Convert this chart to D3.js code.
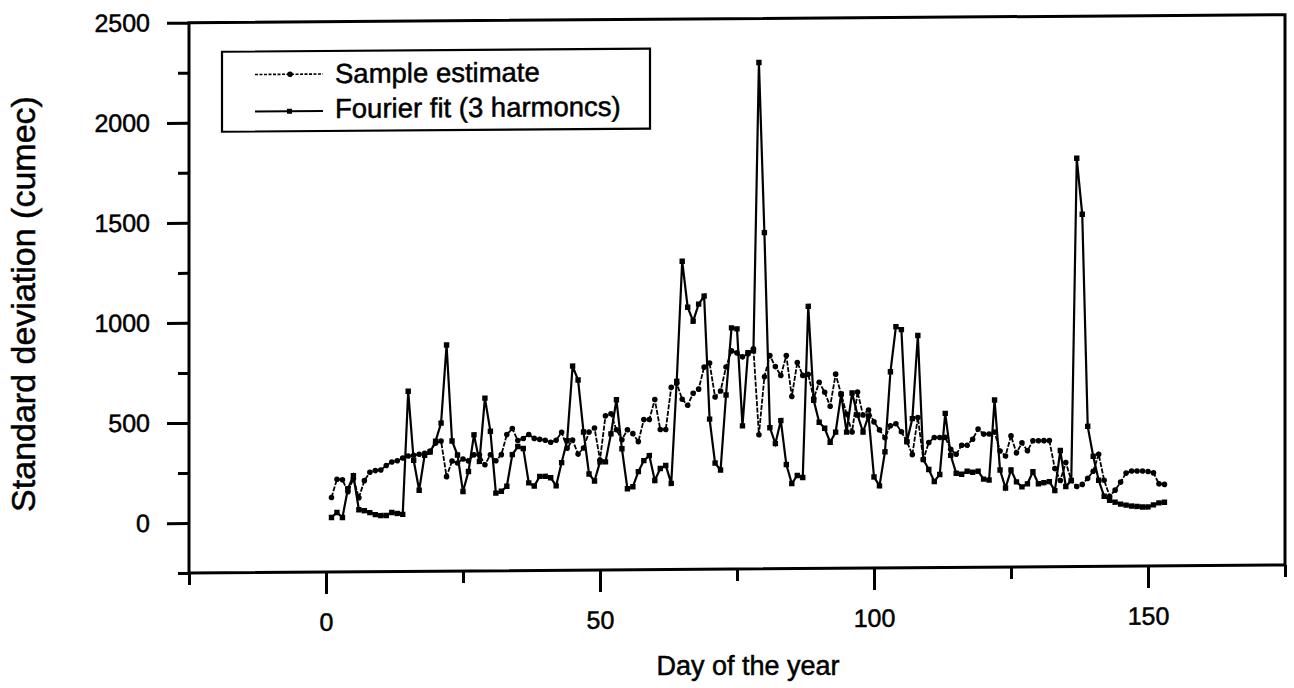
<!DOCTYPE html>
<html>
<head>
<title>Standard deviation by day</title>
<script src="https://d3js.org/d3.v7.min.js"></script>
<style>
  body { margin: 0; background: #fff; }
  text { font-family: "Liberation Sans", Arial, sans-serif; fill: #000; stroke: #000; stroke-width: 0.5px; }
</style>
</head>
<body>
<script>
var w = 1294, h = 688;

// day numbers 1..153
var days = d3.range(1, 154);

// sample estimate (dotted line with dots)
var sampleEst = [
  122, 213, 210, 150, 215, 120, 205, 247, 255, 258, 280, 297, 303, 317, 327,
  330, 335, 340, 350, 390, 400, 222, 300, 290, 310, 300, 330, 330, 280, 330,
  300, 330, 430, 460, 400, 410, 430, 410, 405, 400, 390, 400, 440, 360, 400,
  330, 360, 440, 460, 300, 520, 530, 450, 400, 450, 430, 390, 500, 500, 600,
  450, 450, 660, 680, 600, 570, 630, 650, 760, 780, 610, 640, 760, 840, 830,
  810, 825, 850, 420, 710, 815, 760, 715, 815, 610, 780, 715, 720, 600, 680,
  630, 560, 720, 620, 520, 430, 630, 515, 540, 480, 440, 400, 460, 470, 430,
  380, 315, 500, 290, 375, 400, 400, 400, 340, 315, 360, 360, 390, 440, 415,
  415, 425, 330, 305, 405, 320, 370, 330, 380, 380, 380, 380, 240, 180, 270,
  180, 150, 160, 190, 225, 310, 180, 100, 130, 170, 215, 225, 225, 225, 222,
  215, 160, 157
];

// Fourier fit, 3 harmonics (solid line with squares)
var fourierFit = [
  22, 47, 22, 165, 230, 60, 55, 45, 35, 30, 30, 45, 40, 35, 650,
  305, 155, 330, 345, 400, 490, 880, 400, 330, 147, 247, 430, 297, 613, 447,
  138, 147, 172, 330, 370, 360, 188, 172, 220, 220, 213, 172, 288, 397, 770,
  700, 440, 230, 195, 290, 290, 430, 600, 355, 155, 165, 240, 295, 320, 195,
  255, 270, 180, 690, 1290, 1060, 990, 1075, 1115, 500, 280, 245, 620, 955, 950,
  465, 830, 840, 2280, 1430, 455, 375, 490, 270, 175, 215, 205, 1060, 590, 480,
  450, 380, 430, 620, 430, 625, 515, 430, 510, 205, 160, 330, 730, 955, 940,
  380, 495, 910, 290, 240, 180, 215, 520, 310, 220, 215, 230, 225, 230, 190,
  185, 585, 235, 145, 235, 175, 150, 165, 225, 165, 170, 175, 130, 330, 150,
  180, 1790, 1510, 450, 300, 180, 100, 80, 70, 60, 55, 50, 48, 45, 45,
  55, 65, 68
];

var xMajor = [0, 50, 100, 150];
var xMinor = [-25, 25, 75, 125, 175];
var yMajor = [0, 500, 1000, 1500, 2000, 2500];
var yMinor = [-250, 250, 750, 1250, 1750, 2250];

var x0 = 189, x1 = 1285, yTop = 22.7, yBot = 573;

var xScale = d3.scaleLinear().domain([-25, 175]).range([x0, x1]);
var yScale = d3.scaleLinear().domain([-250, 2500]).range([yBot, yTop]);

var svg = d3.select("body").append("svg")
  .attr("width", w).attr("height", h);

// the scanned figure is slightly sheared; reproduce it
var g = svg.append("g")
  .attr("transform", "translate(" + x0 + ",0) skewY(-0.42) translate(" + (-x0) + ",0)");

// frame
g.append("rect")
  .attr("x", x0).attr("y", yTop)
  .attr("width", x1 - x0).attr("height", yBot - yTop)
  .attr("fill", "none").attr("stroke", "#000").attr("stroke-width", 3);

// axes
function styleAxis(sel) {
  sel.select(".domain").remove();
  sel.selectAll("line").attr("stroke", "#000").attr("stroke-width", 3);
  sel.selectAll("text").attr("font-size", "25px")
    .attr("font-family", "'Liberation Sans', Arial, sans-serif");
}

g.append("g").attr("transform", "translate(0," + yBot + ")")
  .call(d3.axisBottom(xScale).tickValues(xMinor).tickSize(12).tickFormat(""))
  .call(styleAxis);
g.append("g").attr("transform", "translate(0," + yBot + ")")
  .call(d3.axisBottom(xScale).tickValues(xMajor).tickSize(22).tickPadding(19).tickFormat(d3.format("d")))
  .call(styleAxis);
g.append("g").attr("transform", "translate(" + x0 + ",0)")
  .call(d3.axisLeft(yScale).tickValues(yMinor).tickSize(11).tickFormat(""))
  .call(styleAxis);
g.append("g").attr("transform", "translate(" + x0 + ",0)")
  .call(d3.axisLeft(yScale).tickValues(yMajor).tickSize(22).tickPadding(17).tickFormat(d3.format("d")))
  .call(styleAxis);

// series
var line = d3.line()
  .x(function(d, i) { return xScale(days[i]); })
  .y(function(d) { return yScale(d); });

g.append("path").datum(sampleEst)
  .attr("d", line).attr("fill", "none")
  .attr("stroke", "#000").attr("stroke-width", 1.8)
  .attr("stroke-dasharray", "5,1.5");
g.append("path").datum(fourierFit)
  .attr("d", line).attr("fill", "none")
  .attr("stroke", "#000").attr("stroke-width", 2.2);

g.selectAll(".dotS").data(sampleEst).enter().append("circle")
  .attr("class", "dotS")
  .attr("cx", function(d, i) { return xScale(days[i]); })
  .attr("cy", function(d) { return yScale(d); })
  .attr("r", 2.8).attr("fill", "#000");
g.selectAll(".dotF").data(fourierFit).enter().append("rect")
  .attr("class", "dotF")
  .attr("x", function(d, i) { return xScale(days[i]) - 2.7; })
  .attr("y", function(d) { return yScale(d) - 2.7; })
  .attr("width", 5.4).attr("height", 5.4).attr("fill", "#000");

// legend
var lg = g.append("g");
lg.append("rect").attr("x", 222).attr("y", 52).attr("width", 428).attr("height", 80)
  .attr("fill", "#fff").attr("stroke", "#000").attr("stroke-width", 2.2);
lg.append("line").attr("x1", 255).attr("x2", 323).attr("y1", 75).attr("y2", 75)
  .attr("stroke", "#000").attr("stroke-width", 1.6).attr("stroke-dasharray", "3,1.5");
lg.append("circle").attr("cx", 290).attr("cy", 75).attr("r", 2.8).attr("fill", "#000");
lg.append("line").attr("x1", 255).attr("x2", 323).attr("y1", 112).attr("y2", 112)
  .attr("stroke", "#000").attr("stroke-width", 2.2);
lg.append("rect").attr("x", 287).attr("y", 109.5).attr("width", 5).attr("height", 5).attr("fill", "#000");
lg.append("text").attr("x", 335).attr("y", 84).attr("font-size", "27.5px").text("Sample estimate");
lg.append("text").attr("x", 335).attr("y", 119).attr("font-size", "27.5px").text("Fourier fit (3 harmoncs)");

// axis titles
svg.append("text").attr("x", 748).attr("y", 675).attr("text-anchor", "middle")
  .attr("font-size", "27px").text("Day of the year");
svg.append("text").attr("transform", "translate(35,304) rotate(-90)")
  .attr("text-anchor", "middle").attr("font-size", "34px")
  .text("Standard deviation (cumec)");
</script>
</body>
</html>
